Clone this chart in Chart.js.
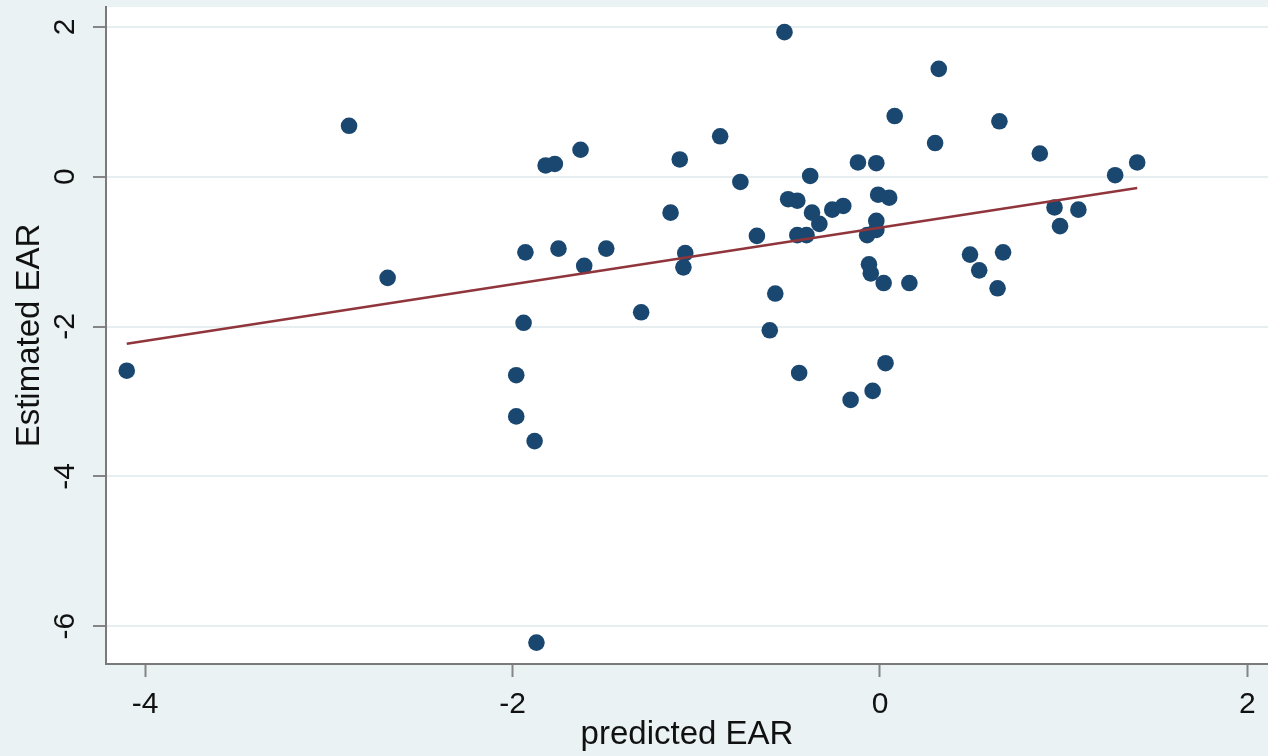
<!DOCTYPE html>
<html>
<head>
<meta charset="utf-8">
<style>
  html, body { margin: 0; padding: 0; background: #eaf2f3; }
  #chart { display: block; }
</style>
<script src="https://cdn.jsdelivr.net/npm/chart.js@4/dist/chart.umd.min.js"></script>
</head>
<body>
<canvas id="chart" width="1268" height="756"></canvas>
<script>
'use strict';

// values
var predictedEAR = [-4.10, -2.89, -2.68, -1.98, -1.98, -1.94, -1.93, -1.88, -1.87, -1.82,
  -1.77, -1.75, -1.63, -1.61, -1.49, -1.30, -1.14, -1.09, -1.06, -1.07,
  -0.87, -0.76, -0.67, -0.60, -0.57, -0.52, -0.50, -0.45, -0.44, -0.45,
  -0.40, -0.38, -0.37, -0.33, -0.26, -0.20, -0.16, -0.12, -0.07, -0.06,
  -0.05, -0.04, -0.02, -0.02, -0.02, -0.01, 0.05, 0.02, 0.03, 0.08,
  0.16, 0.30, 0.32, 0.49, 0.54, 0.64, 0.65, 0.67, 0.87, 0.95,
  0.98, 1.08, 1.28, 1.40];
var estimatedEAR = [-2.59, 0.68, -1.35, -2.65, -3.20, -1.95, -1.01, -3.53, -6.22, 0.15,
  0.17, -0.96, 0.36, -1.19, -0.96, -1.81, -0.48, 0.23, -1.02, -1.21,
  0.54, -0.07, -0.79, -2.05, -1.56, 1.93, -0.30, -0.32, -2.62, -0.78,
  -0.78, 0.01, -0.48, -0.63, -0.44, -0.39, -2.98, 0.19, -0.78, -1.17,
  -1.29, -2.86, 0.18, -0.59, -0.71, -0.24, -0.28, -1.42, -2.49, 0.81,
  -1.42, 0.45, 1.44, -1.04, -1.25, -1.49, 0.74, -1.01, 0.31, -0.41,
  -0.66, -0.44, 0.02, 0.19];

// fitted line, its two ends
var fitX = [-4.10, 1.40];
var fitY = [-2.23, -0.15];

var xTicks = [-4, -2, 0, 2];
var yTicks = [-6, -4, -2, 0, 2];

var FONT = "'Liberation Sans', Arial, Helvetica, sans-serif";

function toPoints(xs, ys) {
  var pts = [];
  for (var i = 0; i < xs.length; i++) {
    pts.push({ x: xs[i], y: ys[i] });
  }
  return pts;
}

function fixedTicks(values) {
  return function(scale) {
    scale.ticks = values.map(function(v) { return { value: v }; });
  };
}

// grey page, white plot region
var plotBackground = {
  id: 'plotBackground',
  beforeDraw: function(chart) {
    var ctx = chart.ctx;
    var area = chart.chartArea;
    ctx.save();
    ctx.fillStyle = '#eaf2f3';
    ctx.fillRect(0, 0, chart.width, chart.height);
    ctx.fillStyle = '#ffffff';
    ctx.fillRect(area.left, area.top, area.right - area.left, area.bottom - area.top);
    ctx.restore();
  }
};

var context = document.getElementById('chart').getContext('2d');

var chart = new Chart(context, {
  type: 'scatter',
  data: {
    datasets: [{
      label: 'Fitted values',
      data: toPoints(fitX, fitY),
      showLine: true,
      borderColor: '#90353b',
      borderWidth: 2.5,
      pointRadius: 0,
      order: 0
    }, {
      label: 'Estimated EAR',
      data: toPoints(predictedEAR, estimatedEAR),
      backgroundColor: '#1a476f',
      borderWidth: 0,
      pointRadius: 8.3,
      order: 1
    }]
  },
  options: {
    responsive: false,
    animation: false,
    layout: { autoPadding: false, padding: { top: 7, right: 0, bottom: 0, left: 0 } },
    plugins: {
      legend: { display: false },
      tooltip: { enabled: false }
    },
    scales: {
      x: {
        type: 'linear',
        min: -4.213,
        max: 2.112,
        afterBuildTicks: fixedTicks(xTicks),
        afterFit: function(scale) {
          scale.height = 92;
          scale.paddingLeft = 0;
          scale.paddingRight = 0;
        },
        grid: {
          drawOnChartArea: false,
          drawTicks: true,
          tickLength: 13,
          tickColor: '#858585',
          tickWidth: 2
        },
        border: { color: '#7a7a7a', width: 2 },
        ticks: {
          autoSkip: false,
          padding: 10,
          color: '#111',
          font: { family: FONT, size: 30 },
          callback: function(v) { return String(v); }
        },
        title: {
          display: true,
          text: 'predicted EAR',
          color: '#111',
          font: { family: FONT, size: 33 },
          padding: { top: 0, bottom: 1 }
        }
      },
      y: {
        type: 'linear',
        min: -6.506,
        max: 2.266,
        afterBuildTicks: fixedTicks(yTicks),
        afterFit: function(scale) {
          scale.width = 106;
          scale.paddingTop = 0;
          scale.paddingBottom = 0;
        },
        grid: {
          color: '#e6eef0',
          lineWidth: 2,
          drawTicks: true,
          tickLength: 13,
          tickColor: '#858585',
          tickWidth: 2
        },
        border: { color: '#7a7a7a', width: 2 },
        ticks: {
          autoSkip: false,
          minRotation: 90,
          maxRotation: 90,
          crossAlign: 'center',
          padding: 14,
          color: '#111',
          font: { family: FONT, size: 30 },
          callback: function(v) { return String(v); }
        },
        title: {
          display: true,
          text: 'Estimated EAR',
          color: '#111',
          font: { family: FONT, size: 33 },
          padding: { top: 10, bottom: 0 }
        }
      }
    }
  },
  plugins: [plotBackground]
});
</script>
</body>
</html>
